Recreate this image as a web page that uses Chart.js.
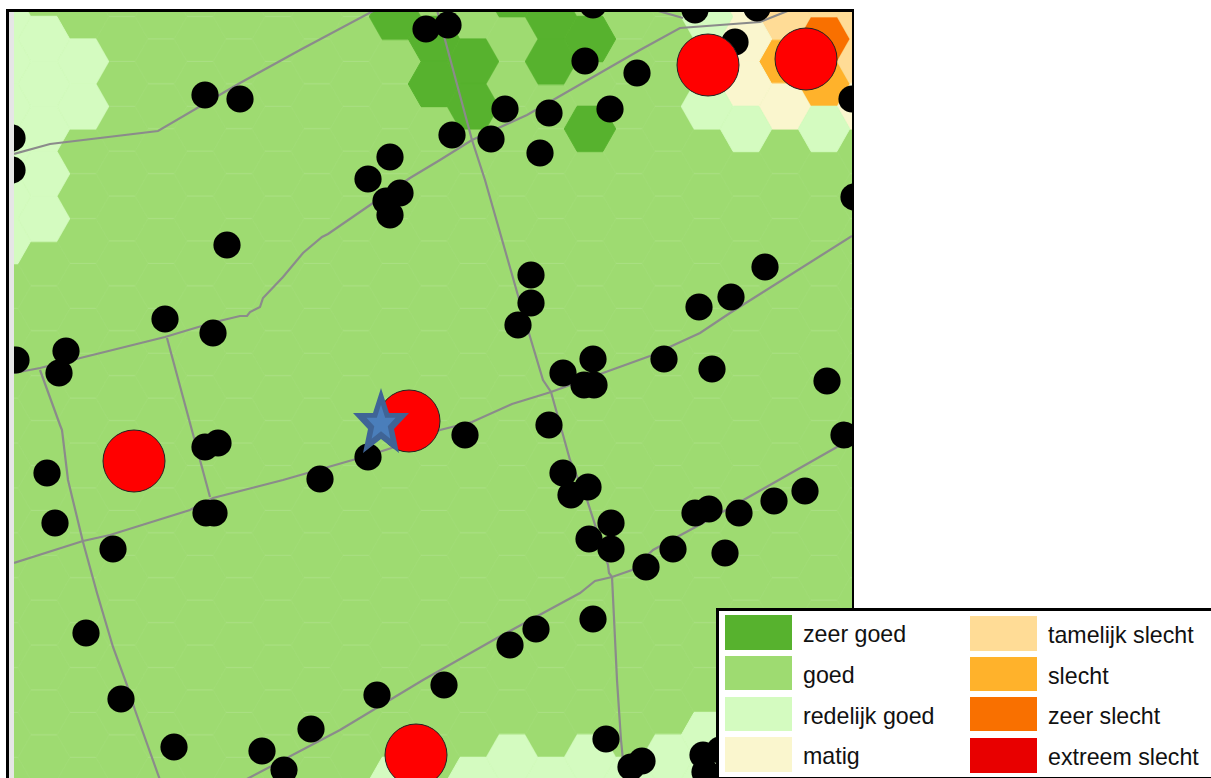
<!DOCTYPE html>
<html>
<head>
<meta charset="utf-8">
<script src="https://cdn.jsdelivr.net/npm/chart.js@4"></script>
<style>
html,body{margin:0;padding:0;background:#fff;overflow:hidden}
#wrap{position:relative;width:1211px;height:778px}
#legend{position:absolute;left:716px;top:608px;width:495px;height:170px;box-sizing:border-box;background:#fff;border:3px solid #000;border-right:none;border-bottom:1px solid #000;font-family:"Liberation Sans",Arial,sans-serif;font-size:23.2px;color:#111}
.sw{position:absolute;width:67px}
.tx{position:absolute;white-space:nowrap;line-height:34px;height:34px}
</style>
</head>
<body>
<div id="wrap"><canvas id="c" width="1211" height="778"></canvas><div id="legend"></div></div>
<script>
// classes
const classCodes = ["a","b","c","d","e","f","g","h"];
const classLabels = ["zeer goed","goed","redelijk goed","matig","tamelijk slecht","slecht","zeer slecht","extreem slecht"];
const classColors = ["#57B22E","#9EDB71","#D4FBC0","#FAF6CE","#FFDC96","#FFB22B","#F97000","#E80000"];

// hexagon cells per row (one letter per column)
const hexRows = [
 "bbbbbbbbbbbbbabbbbbdbeb",
 "ccbbbbbbbbaabbaabbcdege",
 "cccbbbbbbbbaababbbcdffe",
 "cccbbbbbbbbbabbabbccdcd",
 "ccbbbbbbbbbbbbbbbbbbbbb",
 "ccbbbbbbbbbbbbbbbbbbbbb",
 "cbbbbbbbbbbbbbbbbbbbbbb",
 "bbbbbbbbbbbbbbbbbbbbbbb",
 "bbbbbbbbbbbbbbbbbbbbbbb",
 "bbbbbbbbbbbbbbbbbbbbbbb",
 "bbbbbbbbbbbbbbbbbbbbbbb",
 "bbbbbbbbbbbbbbbbbbbbbbb",
 "bbbbbbbbbbbbbbbbbbbbbbb",
 "bbbbbbbbbbbbbbbbbbbbbbb",
 "bbbbbbbbbbbbbbbbbbbbbbb",
 "bbbbbbbbbbbbbbbbbbbbbbb",
 "bbbbbbbbbbbbbbbbbbbbbbb",
 "bbbbbbbbbbbbbcbcbcccbcb",
 "bbbbbbbbbbccccccccccccc"
];

// roads
const roadA = [[14,154],[50,144],[158,131],[240,83],[300,50],[375,10]];
const roadB = [[14,373],[40,368],[165,337],[215,322],[240,316],[247,316],[250,312],[260,307],[263,298],[283,277],[303,253],[322,237],[328,234],[373,203],[410,178],[440,160],[472,140],[527,115],[640,50],[680,28],[760,22],[790,10]];
const roadB2 = [[655,10],[683,18]];
const roadC = [[437,10],[472,140],[485,180],[525,320],[543,380],[551,392],[570,460],[587,500],[608,565],[609,573],[612,577],[617,680],[621,740],[625,780]];
const roadD = [[14,563],[83,541],[110,535],[190,510],[213,498],[283,480],[370,455],[410,442],[440,430],[472,422],[512,404],[551,392],[603,373],[650,356],[700,333],[730,313],[852,236]];
const roadE = [[245,780],[340,730],[423,680],[497,638],[580,593],[595,581],[612,577],[632,570],[653,550],[703,523],[747,498],[837,447],[852,438]];
const roadF = [[40,370],[60,425],[62,430],[68,480],[83,542],[97,593],[113,647],[127,685],[135,710],[160,780]];
const roadG = [[167,338],[210,497]];

// monitoring points
const blackPoints = [[361,-3],[205,95],[240,99],[452,135],[491,139],[505,109],[549,113],[540,153],[610,109],[585,61],[637,73],[426,29],[448,25],[593,5],[695,10],[735,42],[757,8],[852,99],[854,197],[12,138],[12,170],[390,157],[368,179],[400,193],[386,201],[390,215],[227,245],[531,275],[531,303],[518,325],[765,267],[731,297],[699,307],[165,319],[213,333],[66,351],[16,360],[59,373],[563,373],[593,359],[664,359],[712,369],[584,385],[594,385],[827,381],[844,435],[549,425],[465,435],[368,457],[320,479],[218,443],[205,447],[47,473],[563,473],[588,487],[571,495],[805,491],[774,501],[739,513],[709,509],[695,513],[611,523],[589,539],[611,549],[673,549],[646,567],[725,553],[206,513],[214,513],[55,523],[113,549],[86,633],[593,619],[536,629],[510,645],[444,685],[377,695],[121,699],[311,729],[174,747],[262,751],[284,770],[606,739],[631,767],[642,761],[703,755],[720,750],[705,772]];
const redPoints = [[708,65],[806,59],[409,421],[134,461],[416,755]];
const starPoints = [[381,421]];

// grid placement of the hexagon cells in map units
const grid = {x0:5, dx:39, y0:16.6, dy:44.9};

function hexCanvas(fill, edgeH, edgeD){
  const w=54,h=48,c=document.createElement('canvas');c.width=w;c.height=h;
  const g=c.getContext('2d'),R=25.7,H=22.6,cx=w/2,cy=h/2;
  const P=[[cx-R,cy],[cx-R/2,cy-H],[cx+R/2,cy-H],[cx+R,cy],[cx+R/2,cy+H],[cx-R/2,cy+H]];
  g.beginPath();
  P.forEach((p,i)=>i?g.lineTo(p[0],p[1]):g.moveTo(p[0],p[1]));g.closePath();
  g.fillStyle=fill;g.fill();
  g.lineWidth=1;g.strokeStyle=edgeD;g.stroke();
  g.strokeStyle=edgeH;g.beginPath();
  g.moveTo(P[1][0],P[1][1]);g.lineTo(P[2][0],P[2][1]);
  g.moveTo(P[5][0],P[5][1]);g.lineTo(P[4][0],P[4][1]);g.stroke();
  return c;
}
function starCanvas(){
  const w=62,h=72,c=document.createElement('canvas');c.width=w;c.height=h;
  const g=c.getContext('2d'),cx=w/2;
  const pts=[[0,-33],[8,-8],[28,-8],[13,8],[18,32],[0,18],[-18,32],[-13,8],[-28,-8],[-8,-8]];
  g.beginPath();
  pts.forEach((p,i)=>{const x=cx+p[0],y=h/2+p[1];i?g.lineTo(x,y):g.moveTo(x,y);});
  g.closePath();
  g.fillStyle='#3F6496';g.fill();
  const s=0.52;
  g.beginPath();
  pts.forEach((p,i)=>{const x=cx+p[0]*s,y=h/2+1+p[1]*s;i?g.lineTo(x,y):g.moveTo(x,y);});
  g.closePath();
  g.fillStyle='#4A7EBB';g.fill();
  return c;
}
const xy = a => a.map(p=>({x:p[0],y:p[1]}));

const datasets = [];
classCodes.forEach((code,ci)=>{
  const cells=[];
  hexRows.forEach((row,r)=>{
    [...row].forEach((ch,i)=>{
      if(ch===code){
        cells.push({x:grid.x0+grid.dx*i, y:grid.y0+grid.dy*(r-1)+(i%2?grid.dy/2:0)});
      }
    });
  });
  const isGood = code==='b';
  datasets.push({label:classLabels[ci],data:cells,showLine:false,clip:0,
    pointStyle:hexCanvas(classColors[ci], isGood?'#ABE084':classColors[ci], isGood?'#A1DC76':classColors[ci]),
    pointRadius:26,pointHoverRadius:26,order:isGood?60:50});
});
[roadA,roadB,roadB2,roadC,roadD,roadE,roadF,roadG].forEach((r,i)=>{
  datasets.push({label:'weg'+i,data:xy(r),showLine:true,fill:false,tension:0,borderColor:'#8B8B8B',borderWidth:2.2,pointRadius:0,clip:0,order:40});
});
datasets.push({label:'punten',data:xy(blackPoints),showLine:false,pointStyle:'circle',pointRadius:13.6,backgroundColor:'#000',borderColor:'#000',borderWidth:0,clip:0,order:30});
datasets.push({label:'rood',data:xy(redPoints),showLine:false,pointStyle:'circle',pointRadius:31,backgroundColor:'#FF0000',borderColor:'#222',borderWidth:1,clip:0,order:20});
datasets.push({label:'locatie',data:xy(starPoints),showLine:false,pointStyle:starCanvas(),pointRadius:30,clip:0,order:10});

const frame = {
  id:'frame',
  beforeDraw(ch){
    const g=ch.ctx,a=ch.chartArea;
    g.save();
    g.fillStyle='#E6E6E6';g.fillRect(9,12,a.left-9,ch.height-12);
    g.fillStyle=classColors[1];g.fillRect(a.left,a.top,a.right-a.left,a.bottom-a.top);
    g.restore();
  },
  afterDraw(ch){
    const g=ch.ctx,a=ch.chartArea;
    g.save();
    g.fillStyle='#000';
    g.fillRect(6,9,3,ch.height-9);
    g.fillRect(6,9,a.right+2-6,3);
    g.fillRect(a.right,9,2,ch.height-9);
    g.restore();
  }
};

new Chart(document.getElementById('c'),{
  type:'scatter',
  data:{datasets},
  plugins:[frame],
  options:{
    responsive:false,animation:false,
    layout:{autoPadding:false,padding:{left:14,top:12,right:359,bottom:0}},
    plugins:{legend:{display:false},tooltip:{enabled:false}},
    scales:{
      x:{type:'linear',min:14,max:852,display:false},
      y:{type:'linear',min:12,max:778,reverse:true,display:false}
    }
  }
});

// legend box
const lg=document.getElementById('legend');
const swTops=[[4,45,86,126],[5,46,86,127]];
const swH=[35,34,34,35];
const colX=[6,251], txX=[84,329];
classLabels.forEach((lab,i)=>{
  const col=i<4?0:1,row=i%4;
  const s=document.createElement('div');s.className='sw';
  s.style.cssText=`left:${colX[col]}px;top:${swTops[col][row]}px;height:${swH[row]}px;background:${classColors[i]}`;
  lg.appendChild(s);
  const t=document.createElement('div');t.className='tx';t.textContent=lab;
  t.style.left=txX[col]+'px';t.style.top=(swTops[col][row]+2)+'px';
  lg.appendChild(t);
});
</script>
</body>
</html>
